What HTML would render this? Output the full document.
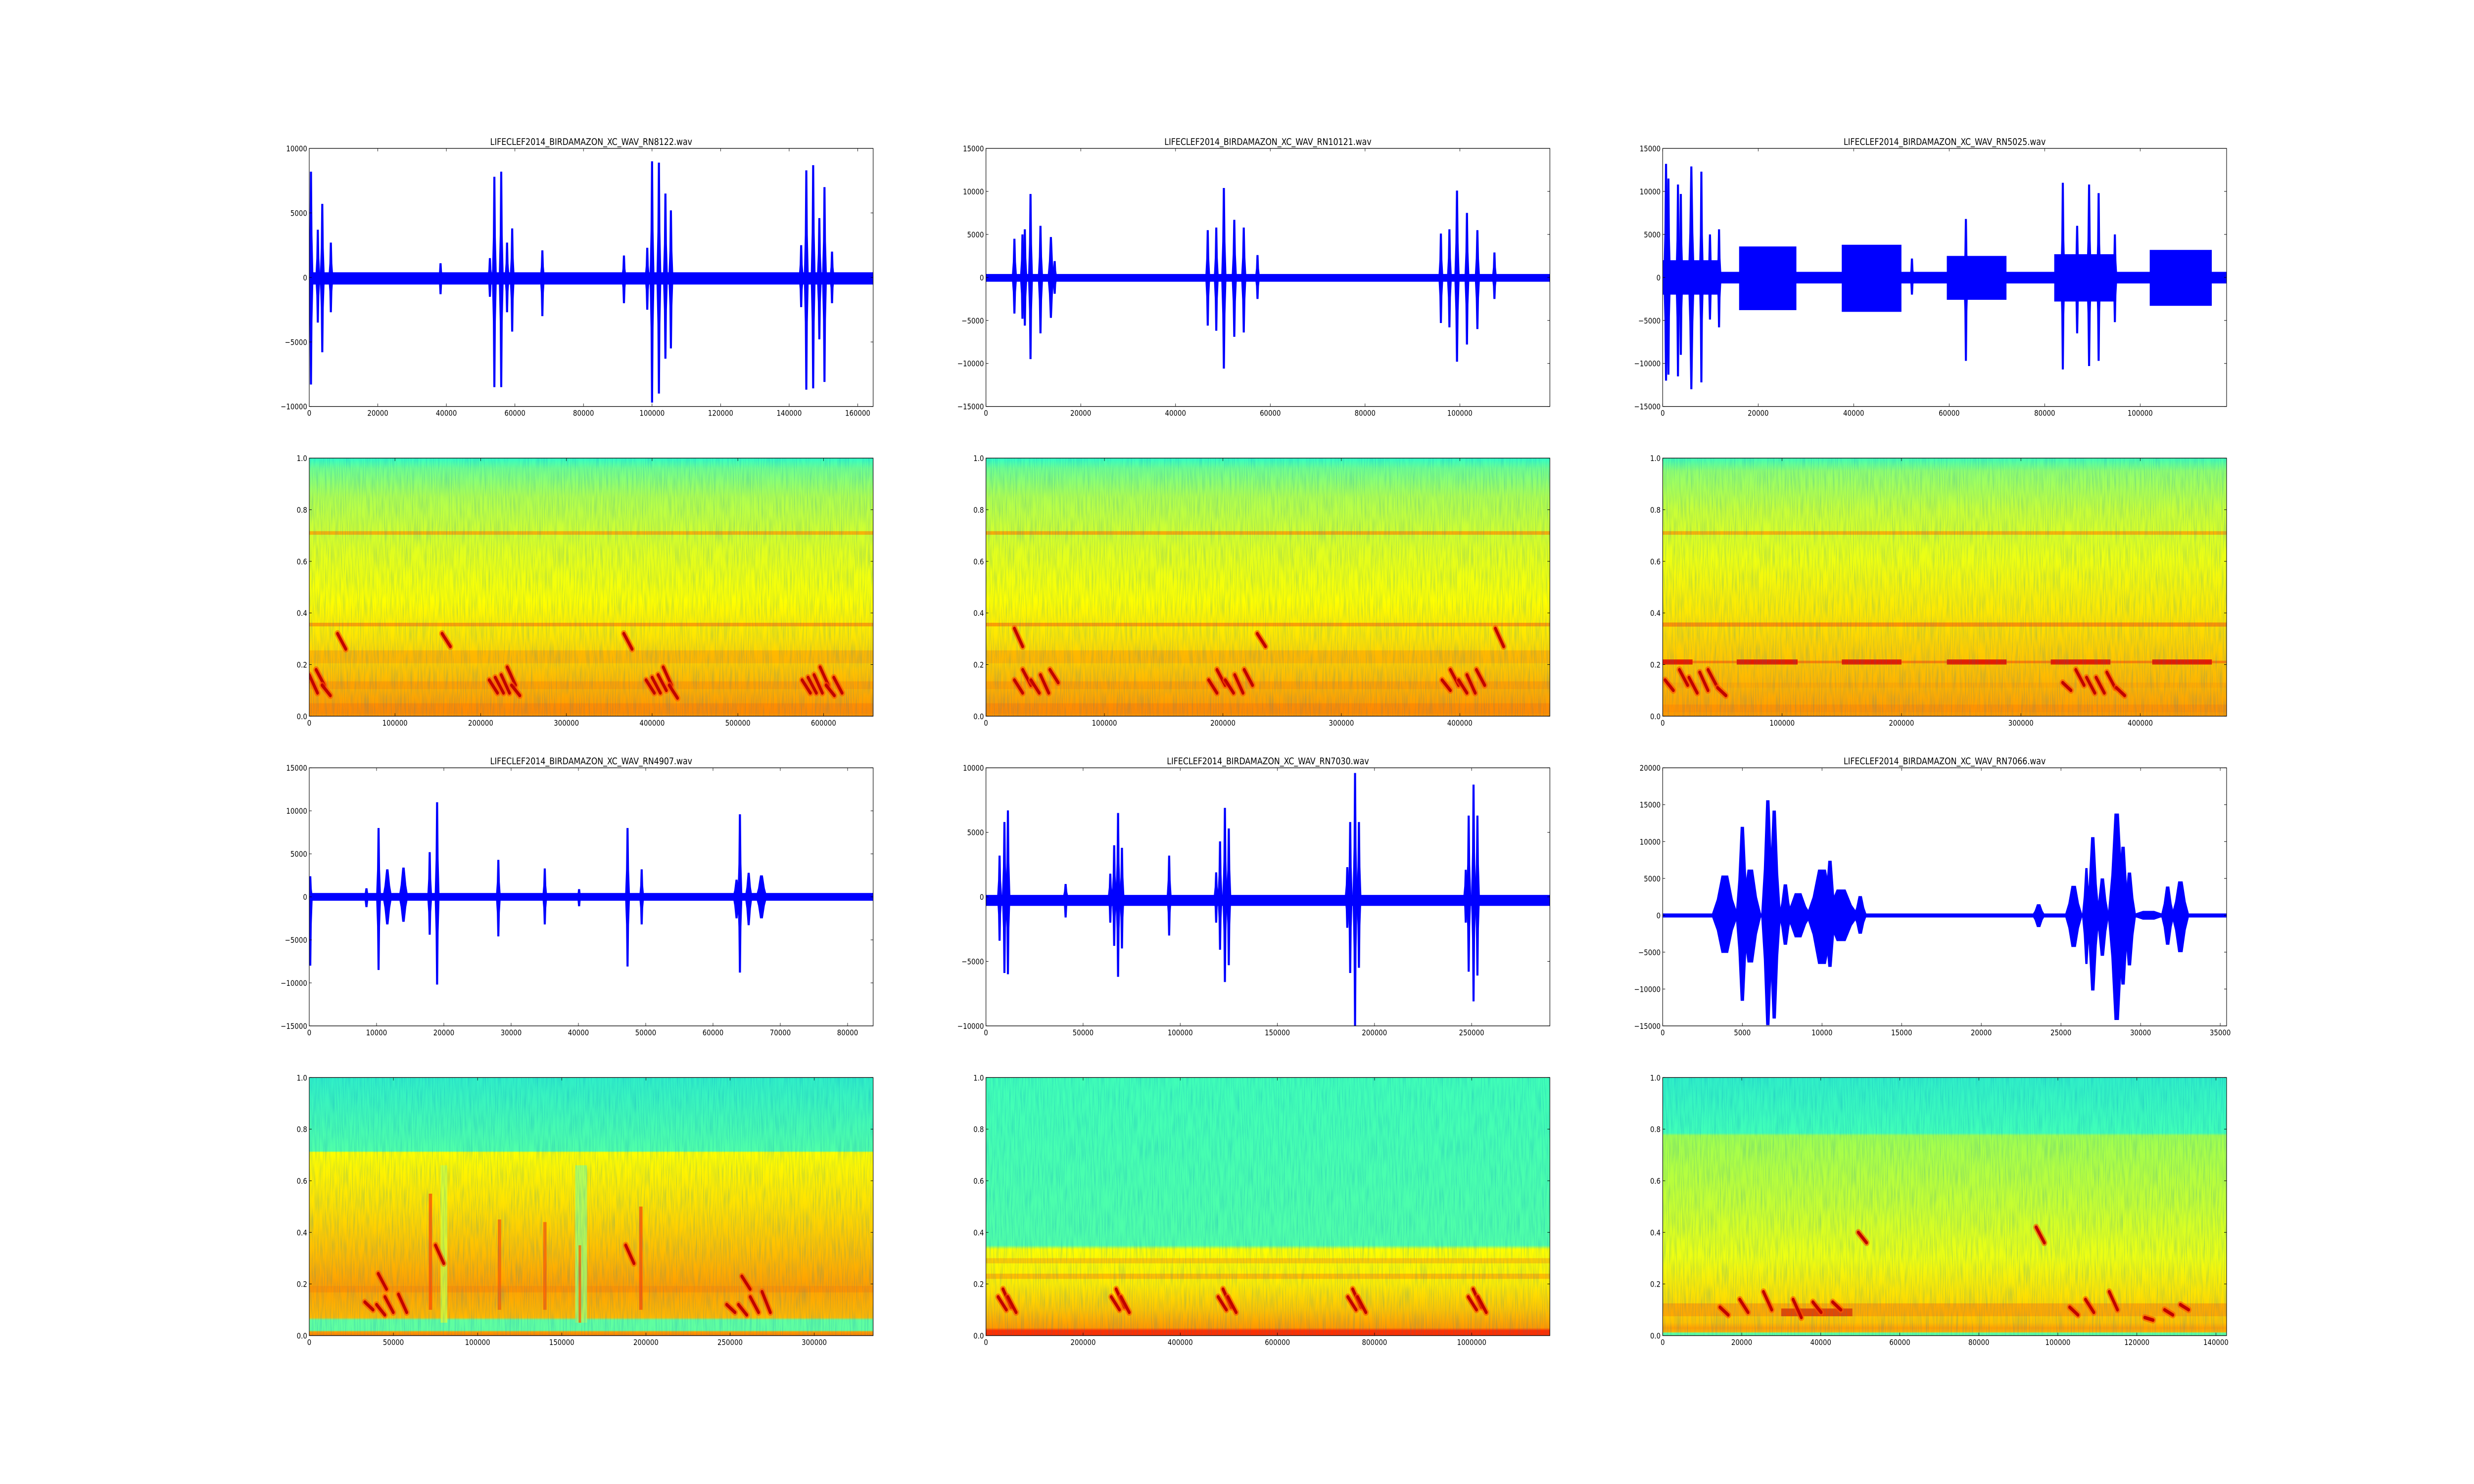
<!DOCTYPE html>
<html><head><meta charset="utf-8">
<style>
html,body{margin:0;padding:0;background:#fff;width:100%;height:100%;overflow:hidden;}
svg{display:block;width:100vw;height:100vh;font-family:"DejaVu Sans","Liberation Sans",sans-serif;}
</style></head>
<body>
<svg id="fig" xmlns="http://www.w3.org/2000/svg" viewBox="0 0 6000 3000" preserveAspectRatio="none" overflow="hidden">
<defs>
<filter id="speckle" x="0" y="0" width="1" height="1">
<feTurbulence type="fractalNoise" baseFrequency="0.35 0.02" numOctaves="2" seed="3" result="n"/>
<feColorMatrix in="n" type="matrix" values="0 0 0 0 0  0 0 0 0 0.2  0 0 0 0 0.6  0 0 0 1.4 -0.55"/>
</filter>
</defs>
<rect x="0" y="0" width="6000" height="3000" fill="#ffffff"/>
</svg>
<script>
// ---------- data ----------
const titles = ["LIFECLEF2014_BIRDAMAZON_XC_WAV_RN8122.wav","LIFECLEF2014_BIRDAMAZON_XC_WAV_RN10121.wav","LIFECLEF2014_BIRDAMAZON_XC_WAV_RN5025.wav","LIFECLEF2014_BIRDAMAZON_XC_WAV_RN4907.wav","LIFECLEF2014_BIRDAMAZON_XC_WAV_RN7030.wav","LIFECLEF2014_BIRDAMAZON_XC_WAV_RN7066.wav"];
const waveXMax = [164500,119000,118100,83800,290300,35400];
const waveXTicks = [[0,20000,40000,60000,80000,100000,120000,140000,160000],[0,20000,40000,60000,80000,100000],[0,20000,40000,60000,80000,100000],[0,10000,20000,30000,40000,50000,60000,70000,80000],[0,50000,100000,150000,200000,250000],[0,5000,10000,15000,20000,25000,30000,35000]];
const waveYMin = [-10000,-15000,-15000,-15000,-10000,-15000];
const waveYMax = [10000,15000,15000,15000,10000,20000];
const waveYTicks = [[-10000,-5000,0,5000,10000],[-15000,-10000,-5000,0,5000,10000,15000],[-15000,-10000,-5000,0,5000,10000,15000],[-15000,-10000,-5000,0,5000,10000,15000],[-10000,-5000,0,5000,10000],[-15000,-10000,-5000,0,5000,10000,15000,20000]];
const noiseHi = [400,400,650,450,150,250];
const noiseLo = [-550,-500,-700,-450,-700,-300];
// bursts: [x, top, bottom, halfwidth]
const bursts0 = [[500,8200,-8300,400],[2500,3700,-3500,500],[3800,5700,-5800,400],[6300,2700,-2700,500],[38300,1100,-1300,500],[52700,1500,-1500,400],[54000,7800,-8500,300],[56000,8200,-8500,300],[57700,2700,-2700,400],[59200,3800,-4200,500],[68000,2100,-3000,100],[91800,1700,-2000,300],[98600,2300,-2500,300],[100000,9000,-9700,300],[102000,8900,-9000,300],[103900,6500,-6300,300],[105500,5200,-5500,400],[143500,2500,-2300,400],[145000,8300,-8700,300],[147000,8700,-8600,300],[148800,4600,-4800,300],[150300,7000,-8100,300],[152500,2000,-2000,500]];
const bursts1 = [[6000,4500,-4200,400],[7700,5000,-4800,200],[8200,5600,-5600,300],[9400,9700,-9500,300],[11500,6000,-6500,400],[13700,4700,-4700,500],[14500,1900,-1900,300],[46800,5500,-5600,300],[48600,5800,-6200,300],[50200,10400,-10600,400],[52400,6700,-6900,400],[54400,5800,-6400,400],[57300,2600,-2500,150],[96000,5100,-5300,300],[97800,5600,-5800,300],[99400,10100,-9800,400],[101500,7500,-7800,300],[103700,5500,-6000,400],[107300,2900,-2500,150]];
const bursts2 = [[700,13200,-12000,400],[1200,11500,-11300,300],[3200,10800,-11500,300],[3800,9700,-9000,200],[6000,12900,-13000,500],[8100,12300,-12200,300],[9900,5000,-4900,400],[11800,5600,-5800,300],[52200,2200,-2000,300],[63500,6800,-9700,80],[83800,11000,-10700,300],[86800,6000,-6500,400],[89300,10800,-10300,400],[91300,9800,-9700,300],[94700,5000,-5200,300]];
const bursts3 = [[150,2400,-8000,100],[8500,1000,-1200,300],[10300,8000,-8500,200],[11600,3200,-3200,500],[14000,3400,-2900,500],[17900,5200,-4400,150],[19000,11000,-10200,200],[28100,4300,-4600,150],[35000,3300,-3200,150],[40100,900,-1100,100],[47300,8000,-8100,200],[49400,3200,-3200,150],[63500,2000,-2500,400],[64000,9600,-8800,150],[65300,2800,-3300,400],[67200,2500,-2500,600]];
const bursts4 = [[7000,3200,-3400,500],[9500,5800,-5900,300],[11300,6700,-6000,300],[41000,1000,-1600,1000],[64000,1800,-2000,500],[66000,4000,-3800,300],[68000,6500,-6200,400],[70000,3800,-4000,400],[94300,3200,-3000,100],[118500,1900,-2000,400],[120500,4300,-4100,300],[123000,6900,-6600,400],[125000,5300,-5300,300],[186000,2300,-2400,300],[187500,5800,-5900,300],[190000,9600,-10000,400],[192000,5800,-5500,400],[247000,2100,-2000,400],[248500,6300,-5800,300],[251000,8700,-8100,400],[253000,6300,-6100,300]];
const bursts5 = [[3900,5400,-5100,600],[5000,12000,-11600,300],[5500,6200,-6400,500],[6600,15600,-14900,300],[7000,14200,-14000,300],[7700,4200,-4000,300],[8500,3000,-3000,600],[10000,6200,-6600,700],[10500,7400,-7000,300],[11200,3500,-3500,800],[12400,2600,-2500,300],[23600,1500,-1600,300],[25800,4000,-4300,400],[26600,6400,-6600,200],[27000,10600,-10200,300],[27600,5000,-5500,300],[28500,13800,-14200,400],[28900,9300,-9400,300],[29300,5800,-6800,300],[30500,600,-600,1000],[31700,3900,-4000,300],[32500,4600,-5000,400]];
const burstSets = [bursts0,bursts1,bursts2,bursts3,bursts4,bursts5];
// blocks: [x0, x1, top, bottom]
const blocks2 = [[0,12000,2000,-2000],[16000,28000,3600,-3800],[37500,50000,3800,-4000],[59500,72000,2500,-2600],[82000,95000,2700,-2800],[102000,115000,3200,-3300]];
const blockSets = [[],[],blocks2,[],[],[]];

// spectrograms
const specXMax = [657900,476000,472300,335000,1161000,142700];
const specXTicks = [[0,100000,200000,300000,400000,500000,600000],[0,100000,200000,300000,400000],[0,100000,200000,300000,400000],[0,50000,100000,150000,200000,250000,300000],[0,200000,400000,600000,800000,1000000],[0,20000,40000,60000,80000,100000,120000,140000]];
const specYTicks = [0,0.2,0.4,0.6,0.8,1.0];
const specStops = [
 [[0,'#30ffc8'],[0.04,'#70ff90'],[0.15,'#b0ff50'],[0.35,'#e0ff20'],[0.55,'#ffff00'],[0.7,'#ffe400'],[0.85,'#ffbc00'],[1,'#ff9000']],
 [[0,'#30ffc8'],[0.04,'#70ff90'],[0.15,'#b0ff50'],[0.35,'#e0ff20'],[0.55,'#ffff00'],[0.7,'#ffe400'],[0.85,'#ffbc00'],[1,'#ff9000']],
 [[0,'#40ffb8'],[0.05,'#90ff70'],[0.2,'#c8ff38'],[0.4,'#f0ff10'],[0.6,'#ffe800'],[0.75,'#ffcc00'],[0.9,'#ffb000'],[1,'#ff9800']],
 [[0,'#30f0c8'],[0.285,'#50ffa8'],[0.29,'#ffff00'],[0.5,'#ffe000'],[0.7,'#ffb800'],[0.8,'#ffa000'],[0.93,'#ffb800'],[0.94,'#60ffa0'],[0.98,'#60ffa0'],[0.985,'#ffa000'],[1,'#ff8000']],
 [[0,'#40ffb8'],[0.65,'#50ffa8'],[0.665,'#ffff00'],[0.8,'#ffec00'],[0.9,'#ffc400'],[0.97,'#ff9800'],[0.98,'#ff3000'],[1,'#ff3000']],
 [[0,'#30f0c8'],[0.215,'#40ffb8'],[0.225,'#a0ff50'],[0.5,'#c8ff30'],[0.7,'#f0ff10'],[0.85,'#ffe000'],[0.95,'#ffc000'],[0.975,'#ff9800'],[0.985,'#ffe000'],[0.99,'#60ffa0'],[1,'#60ffa0']]
];
// horizontal bands: [freq, thickness, colour]
const bands0 = [[0.71,0.014,'#ffa000'],[0.355,0.014,'#ff9000'],[0.23,0.05,'#ffb000'],[0.12,0.03,'#ff9c00'],[0.03,0.04,'#ff8800']];
const bands1 = [[0.71,0.014,'#ff9800'],[0.355,0.014,'#ff8c00'],[0.23,0.05,'#ffb000'],[0.12,0.03,'#ff9c00'],[0.03,0.04,'#ff8800']];
const bands2 = [[0.71,0.014,'#ffa000'],[0.355,0.016,'#ff8000'],[0.21,0.01,'#ff7000'],[0.12,0.02,'#ffa800'],[0.03,0.03,'#ff9000']];
const bands3 = [[0.18,0.025,'#ff9000']];
const bands4 = [[0.29,0.02,'#ffc000'],[0.23,0.02,'#ffb000']];
const bands5 = [[0.1,0.05,'#ffa000'],[0.02,0.015,'#ffa800']];
const bandSets = [bands0,bands1,bands2,bands3,bands4,bands5];
// segment bands: [x0, x1, freq, thickness-or-top, colour]
const segs2 = [[0,25000,0.21,0.02,'#e00000'],[62000,113000,0.21,0.02,'#e00000'],[150000,200000,0.21,0.02,'#e00000'],[238000,288000,0.21,0.02,'#e00000'],[325000,375000,0.21,0.02,'#e00000'],[410000,460000,0.21,0.02,'#e00000']];
const segs3 = [[78000,82000,0.05,0.66,'#d0ff40'],[158000,165000,0.05,0.66,'#a0ff70'],[71000,73000,0.1,0.55,'#ff5000'],[112000,114000,0.1,0.45,'#ff6000'],[139000,141000,0.1,0.44,'#ff6000'],[196000,198000,0.1,0.5,'#ff5000'],[160000,161500,0.05,0.35,'#ff6000']];
const segs5 = [[30000,48000,0.09,0.03,'#e03000']];
const segSets = [[],[],segs2,segs3,[],segs5];
// chirps: [x, fTop, fBottom]
const chirps0 = [[0,0.16,0.09],[8000,0.18,0.12],[15000,0.12,0.08],[33000,0.32,0.26],[155000,0.32,0.27],[210000,0.14,0.09],[217000,0.15,0.09],[224000,0.16,0.09],[231000,0.19,0.12],[236000,0.12,0.08],[367000,0.32,0.26],[393000,0.14,0.09],[400000,0.15,0.09],[407000,0.16,0.1],[413000,0.19,0.12],[420000,0.12,0.07],[575000,0.14,0.09],[582000,0.15,0.09],[589000,0.16,0.09],[596000,0.19,0.12],[603000,0.12,0.08],[612000,0.15,0.09]];
const chirps1 = [[24000,0.34,0.27],[24000,0.14,0.09],[31000,0.18,0.12],[38000,0.14,0.09],[46000,0.16,0.09],[54000,0.18,0.13],[188000,0.14,0.09],[195000,0.18,0.12],[202000,0.14,0.09],[210000,0.16,0.09],[218000,0.18,0.12],[229000,0.32,0.27],[385000,0.14,0.1],[392000,0.18,0.12],[399000,0.14,0.09],[406000,0.16,0.09],[414000,0.18,0.12],[430000,0.34,0.27]];
const chirps2 = [[2000,0.14,0.1],[14000,0.18,0.12],[22000,0.15,0.09],[31000,0.17,0.1],[38000,0.18,0.12],[46000,0.11,0.08],[335000,0.13,0.1],[346000,0.18,0.12],[355000,0.15,0.09],[363000,0.15,0.09],[372000,0.17,0.11],[380000,0.11,0.08]];
const chirps3 = [[33000,0.13,0.1],[40000,0.12,0.08],[45000,0.15,0.09],[53000,0.16,0.09],[75000,0.35,0.28],[188000,0.35,0.28],[41000,0.24,0.18],[257000,0.23,0.18],[248000,0.12,0.09],[255000,0.12,0.08],[262000,0.15,0.09],[269000,0.17,0.09]];
const chirps4 = [[25000,0.15,0.1],[35000,0.18,0.11],[45000,0.15,0.09],[258000,0.15,0.1],[268000,0.18,0.11],[278000,0.15,0.09],[478000,0.15,0.1],[488000,0.18,0.11],[498000,0.15,0.09],[745000,0.15,0.1],[755000,0.18,0.11],[765000,0.15,0.09],[993000,0.15,0.1],[1003000,0.18,0.11],[1013000,0.15,0.09]];
const chirps5 = [[14500,0.11,0.08],[19500,0.14,0.09],[25500,0.17,0.1],[33000,0.14,0.07],[38000,0.13,0.09],[43000,0.13,0.1],[49500,0.4,0.36],[94500,0.42,0.36],[103000,0.11,0.08],[107000,0.14,0.09],[113000,0.17,0.1],[122000,0.07,0.06],[127000,0.1,0.08],[131000,0.12,0.1]];
const chirpSets = [chirps0,chirps1,chirps2,chirps3,chirps4,chirps5];

// ---------- layout ----------
const NS = "http://www.w3.org/2000/svg";
const svg = document.getElementById('fig');
const colX = [750, 2391.2, 4032.4], AW = 1367.6;
const rowY = [300, 926.1, 1552.2, 2178.3], AH = 521.7;

function el(tag, attrs, parent){
  const e = document.createElementNS(NS, tag);
  for (const k in attrs) e.setAttribute(k, attrs[k]);
  (parent||svg).appendChild(e);
  return e;
}
function fmt(v, spec){
  if (spec) return v.toFixed(1);
  return (v<0?'\u2212':'') + String(Math.abs(v));
}
function axesFrame(g, x0, y0, xmax, ymin, ymax, xt, yt, spec, name){
  const sx = v => x0 + v/xmax*AW;
  const sy = v => y0 + AH - (v-ymin)/(ymax-ymin)*AH;
  xt.forEach(v=>{
    const X = sx(v);
    const t1 = el('line',{x1:X,y1:y0+AH,x2:X,y2:y0+AH-6,stroke:'#000','stroke-width':1},g);
    
    
    el('line',{x1:X,y1:y0,x2:X,y2:y0+6,stroke:'#000','stroke-width':1},g);
    const t = el('text',{x:X,y:y0+AH+19,'font-size':16,'text-anchor':'middle',fill:'#000'},g);
    t.textContent = fmt(v,false);
    
    
  });
  yt.forEach(v=>{
    const Y = sy(v);
    const t1 = el('line',{x1:x0,y1:Y,x2:x0+6,y2:Y,stroke:'#000','stroke-width':1},g);
    
    
    el('line',{x1:x0+AW,y1:Y,x2:x0+AW-6,y2:Y,stroke:'#000','stroke-width':1},g);
    const t = el('text',{x:x0-5,y:Y+6,'font-size':16,'text-anchor':'end',fill:'#000'},g);
    t.textContent = fmt(v,spec);
    
    
  });
  const f = el('rect',{x:x0,y:y0,width:AW,height:AH,fill:'none',stroke:'#000','stroke-width':1.3},g);
  
  
}

for (let i=0;i<6;i++){
  const c = i%3, r = Math.floor(i/3);
  // ---- waveform ----
  const x0 = colX[c], y0 = rowY[r*2];
  const xmax = waveXMax[i], ymin = waveYMin[i], ymax = waveYMax[i];
  const sx = v => x0 + v/xmax*AW;
  const sy = v => y0 + AH - (v-ymin)/(ymax-ymin)*AH;
  const g = el('g',{});
  
  
  const cp = el('clipPath',{id:'wc'+i},g);
  el('rect',{x:x0,y:y0,width:AW,height:AH},cp);
  const dg = el('g',{'clip-path':'url(#wc'+i+')'},g);
  const nb = el('rect',{x:x0,y:sy(noiseHi[i]),width:AW,height:sy(noiseLo[i])-sy(noiseHi[i]),fill:'#0000ff'},dg);
  
  
  blockSets[i].forEach(b=>{
    const bl = el('rect',{x:sx(b[0]),y:sy(b[2]),width:sx(b[1])-sx(b[0]),height:sy(b[3])-sy(b[2]),fill:'#0000ff'},dg);
    
    
  });
  burstSets[i].forEach(b=>{
    const X = sx(b[0]), hw = Math.max((sx(b[0]+b[3])-X)*1.4, 6), pk = Math.max(hw*0.25, 2.5);
    const Y0 = sy(0), T = sy(b[1]), B = sy(b[2]);
    const Tm = sy(b[1]*0.4), Bm = sy(b[2]*0.4);
    const pts = [[X-hw,Y0],[X-hw*0.6,Tm],[X-pk,T],[X+pk,T],[X+hw*0.6,Tm],[X+hw,Y0],[X+hw*0.6,Bm],[X+pk,B],[X-pk,B],[X-hw*0.6,Bm]].map(p=>p.join(',')).join(' ');
    const p = el('polygon',{points:pts,fill:'#0000ff'},dg);
    
    
  });
  axesFrame(g,x0,y0,xmax,ymin,ymax,waveXTicks[i],waveYTicks[i],false,'waveform');
  const tt = el('text',{x:x0+AW/2,y:y0-7,'font-size':19,'text-anchor':'middle',fill:'#000'},g);
  tt.textContent = titles[i];
  
  

  // ---- spectrogram ----
  const s0 = rowY[r*2+1], smax = specXMax[i];
  const ssx = v => x0 + v/smax*AW;
  const ssy = f => s0 + AH - f*AH;
  const sg = el('g',{});
  
  
  const defs = el('defs',{},sg);
  const lg = el('linearGradient',{id:'sg'+i,x1:0,y1:0,x2:0,y2:1},defs);
  specStops[i].forEach(s=>el('stop',{offset:s[0],'stop-color':s[1]},lg));
  const scp = el('clipPath',{id:'sc'+i},defs);
  el('rect',{x:x0,y:s0,width:AW,height:AH},scp);
  const sd = el('g',{'clip-path':'url(#sc'+i+')'},sg);
  const bg = el('rect',{x:x0,y:s0,width:AW,height:AH,fill:'url(#sg'+i+')'},sd);
  
  
  bandSets[i].forEach(b=>{
    const h = b[1]*AH;
    const br = el('rect',{x:x0,y:ssy(b[0])-h/2,width:AW,height:h,fill:b[2],opacity:0.8},sd);
    
    
  });
  segSets[i].forEach(b=>{
    let y, h;
    if (b[3] > 0.1) { y = ssy(b[3]); h = ssy(b[2]) - y; }
    else { h = b[3]*AH; y = ssy(b[2]) - h/2; }
    const sr = el('rect',{x:ssx(b[0]),y:y,width:Math.max(ssx(b[1])-ssx(b[0]),3),height:h,fill:b[4],opacity:0.8},sd);
    
    
  });
  const tex = el('rect',{x:x0,y:s0,width:AW,height:AH,fill:'#000',filter:'url(#speckle)',opacity:0.35},sd);
  
  
  chirpSets[i].forEach(ch=>{
    const X1 = ssx(ch[0]), X2 = X1 + 20;
    const Y1 = ssy(ch[1]), Y2 = ssy(ch[2]);
    const h1 = el('line',{x1:X1,y1:Y1,x2:X2,y2:Y2,stroke:'#ff5000','stroke-width':14,'stroke-linecap':'round',opacity:0.6},sd);
    
    
    const l = el('line',{x1:X1,y1:Y1,x2:X2,y2:Y2,stroke:'#c00000','stroke-width':7,'stroke-linecap':'round'},sd);
    
    
  });
  axesFrame(sg,x0,s0,smax,0,1,specXTicks[i],specYTicks,true,'spectrogram');
}
</script>
</body></html>
